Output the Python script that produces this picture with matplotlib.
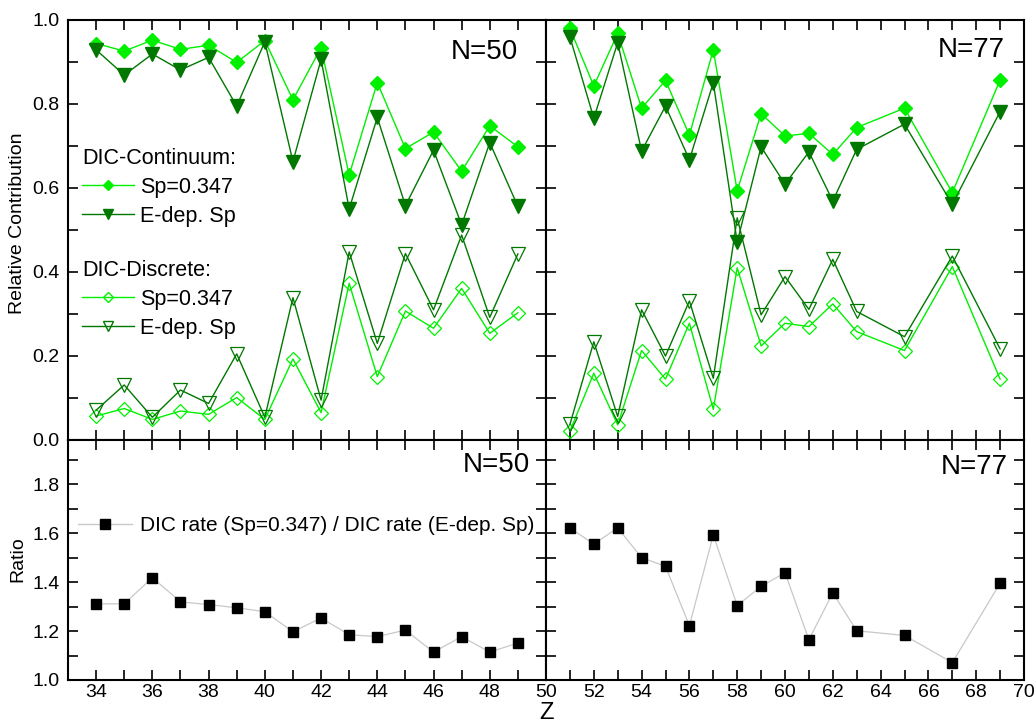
import numpy as np
import matplotlib.pyplot as plt
from matplotlib.lines import Line2D
from matplotlib.ticker import MultipleLocator, FixedLocator

plt.rcParams['font.family'] = ['Liberation Sans', 'DejaVu Sans']

# N=50 isotones
z_n50 = [34, 35, 36, 37, 38, 39, 40, 41, 42, 43, 44, 45, 46, 47, 48, 49]
cont_sp_n50 = [0.944, 0.926, 0.952, 0.930, 0.940, 0.899, 0.951, 0.810, 0.934, 0.631, 0.851, 0.694, 0.733, 0.640, 0.748, 0.698]
cont_edep_n50 = [0.929, 0.869, 0.919, 0.881, 0.911, 0.795, 0.948, 0.663, 0.906, 0.550, 0.768, 0.558, 0.690, 0.512, 0.708, 0.556]
disc_sp_n50 = [0.057, 0.075, 0.049, 0.069, 0.061, 0.101, 0.049, 0.193, 0.065, 0.373, 0.151, 0.307, 0.266, 0.361, 0.254, 0.303]
disc_edep_n50 = [0.071, 0.131, 0.054, 0.119, 0.087, 0.205, 0.054, 0.339, 0.095, 0.448, 0.230, 0.444, 0.310, 0.488, 0.292, 0.443]
ratio_n50 = [1.311, 1.311, 1.418, 1.319, 1.308, 1.295, 1.279, 1.197, 1.253, 1.185, 1.177, 1.204, 1.114, 1.177, 1.114, 1.151]

# N=77 isotones
z_n77 = [51, 52, 53, 54, 55, 56, 57, 58, 59, 60, 61, 62, 63, 65, 67, 69]
cont_sp_n77 = [0.980, 0.843, 0.968, 0.790, 0.856, 0.726, 0.929, 0.593, 0.777, 0.724, 0.730, 0.680, 0.744, 0.790, 0.589, 0.857]
cont_edep_n77 = [0.960, 0.766, 0.946, 0.688, 0.795, 0.667, 0.851, 0.471, 0.698, 0.609, 0.686, 0.569, 0.692, 0.752, 0.561, 0.782]
disc_sp_n77 = [0.021, 0.159, 0.036, 0.213, 0.145, 0.278, 0.073, 0.410, 0.224, 0.278, 0.270, 0.324, 0.258, 0.213, 0.413, 0.145]
disc_edep_n77 = [0.037, 0.234, 0.056, 0.310, 0.200, 0.331, 0.147, 0.529, 0.298, 0.389, 0.311, 0.430, 0.306, 0.246, 0.438, 0.217]
ratio_n77 = [1.621, 1.555, 1.621, 1.500, 1.464, 1.222, 1.592, 1.304, 1.382, 1.438, 1.164, 1.356, 1.201, 1.182, 1.071, 1.395]

light = '#00f000'
dark = '#007800'

fig = plt.figure(figsize=(10.36, 7.25), dpi=100)
gs = fig.add_gridspec(2, 2, left=68/1036, right=1024/1036, top=1-20/725, bottom=1-680/725,
                      hspace=0, wspace=0, height_ratios=[420, 240])
ax_tl = fig.add_subplot(gs[0, 0])
ax_tr = fig.add_subplot(gs[0, 1])
ax_bl = fig.add_subplot(gs[1, 0])
ax_br = fig.add_subplot(gs[1, 1])


def top_panel(ax, z, csp, cedep, dsp, dedep):
    ax.plot(z, csp, color=light, lw=1.0, marker='D', ms=7.5, mfc=light, mec=light, zorder=3)
    ax.plot(z, cedep, color=dark, lw=1.0, marker='v', ms=10, mfc=dark, mec=dark, zorder=3)
    ax.plot(z, dsp, color=light, lw=1.0, marker='D', ms=7.5, mfc='none', mec=light, mew=0.9, zorder=3)
    ax.plot(z, dedep, color=dark, lw=1.0, marker='v', ms=10, mfc='none', mec=dark, mew=0.9, zorder=3)
    ax.set_ylim(0, 1.0)
    ax.yaxis.set_major_locator(MultipleLocator(0.2))
    ax.yaxis.set_minor_locator(MultipleLocator(0.1))


def bottom_panel(ax, z, r):
    ax.plot(z, r, color='#c8c8c8', lw=0.9, marker='s', ms=6.5, mfc='black', mec='black', zorder=3)
    ax.set_ylim(1.0, 1.98)
    ax.yaxis.set_major_locator(MultipleLocator(0.2))
    ax.yaxis.set_minor_locator(MultipleLocator(0.1))


top_panel(ax_tl, z_n50, cont_sp_n50, cont_edep_n50, disc_sp_n50, disc_edep_n50)
top_panel(ax_tr, z_n77, cont_sp_n77, cont_edep_n77, disc_sp_n77, disc_edep_n77)
bottom_panel(ax_bl, z_n50, ratio_n50)
bottom_panel(ax_br, z_n77, ratio_n77)

for ax in (ax_tl, ax_bl):
    ax.set_xlim(33, 50)
    ax.xaxis.set_major_locator(FixedLocator(list(range(34, 49, 2))))
    ax.xaxis.set_minor_locator(FixedLocator(list(range(33, 50))))
for ax in (ax_tr, ax_br):
    ax.set_xlim(50, 70)
    ax.xaxis.set_major_locator(MultipleLocator(2))
    ax.xaxis.set_minor_locator(MultipleLocator(1))

for ax in (ax_tl, ax_tr, ax_bl, ax_br):
    ax.tick_params(which='both', direction='in', top=True, right=True, length=7, width=1.2,
                   labelsize=14)
    ax.tick_params(axis='x', pad=3)
    ax.tick_params(axis='y', pad=6)
    for s in ax.spines.values():
        s.set_linewidth(1.5)

ax_tl.tick_params(labelbottom=False)
ax_tr.tick_params(labelbottom=False, labelleft=False)
ax_br.tick_params(labelleft=False)

fig.text(18/1036, 1-223/725, 'Relative Contribution', fontsize=14, rotation=90, ha='center', va='center')
fig.text(18/1036, 1-559/725, 'Ratio', fontsize=14, rotation=90, ha='center', va='center')
fig.text(547/1036, 1/725, 'Z', fontsize=17, ha='center', va='bottom')

ax_tl.text(0.942, 0.924, 'N=50', transform=ax_tl.transAxes, fontsize=20, ha='right', va='center')
ax_tr.text(0.960, 0.929, 'N=77', transform=ax_tr.transAxes, fontsize=20, ha='right', va='center')
ax_bl.text(0.966, 0.896, 'N=50', transform=ax_bl.transAxes, fontsize=20, ha='right', va='center')
ax_br.text(0.966, 0.889, 'N=77', transform=ax_br.transAxes, fontsize=20, ha='right', va='center')

# legends
h_cont = [Line2D([], [], color=light, lw=1.0, marker='D', ms=5, mfc=light, mec=light),
          Line2D([], [], color=dark, lw=1.0, marker='v', ms=7, mfc=dark, mec=dark)]
h_disc = [Line2D([], [], color=light, lw=1.0, marker='D', ms=5, mfc='none', mec=light),
          Line2D([], [], color=dark, lw=1.0, marker='v', ms=7, mfc='none', mec=dark)]
labels = ['Sp=0.347', 'E-dep. Sp']
leg_kw = dict(loc='upper left', frameon=False, fontsize=15.5, title_fontsize=15.5,
              alignment='left', handlelength=2.4, handletextpad=0.3, labelspacing=0.37,
              borderpad=0, borderaxespad=0)
leg1 = ax_tl.legend(h_cont, labels, title='DIC-Continuum:', bbox_to_anchor=(0.03, 0.696), **leg_kw)
ax_tl.add_artist(leg1)
ax_tl.legend(h_disc, labels, title='DIC-Discrete:', bbox_to_anchor=(0.03, 0.429), **leg_kw)

h_ratio = [Line2D([], [], color='#c8c8c8', lw=1.0, marker='s', ms=6.5, mfc='black', mec='black')]
ax_bl.legend(h_ratio, ['DIC rate (Sp=0.347) / DIC rate (E-dep. Sp)'], loc='upper left',
             bbox_to_anchor=(0.02, 0.683), frameon=False, fontsize=15,
             handlelength=2.6, handletextpad=0.4, borderpad=0, borderaxespad=0)

fig.savefig('out.png', dpi=100)
